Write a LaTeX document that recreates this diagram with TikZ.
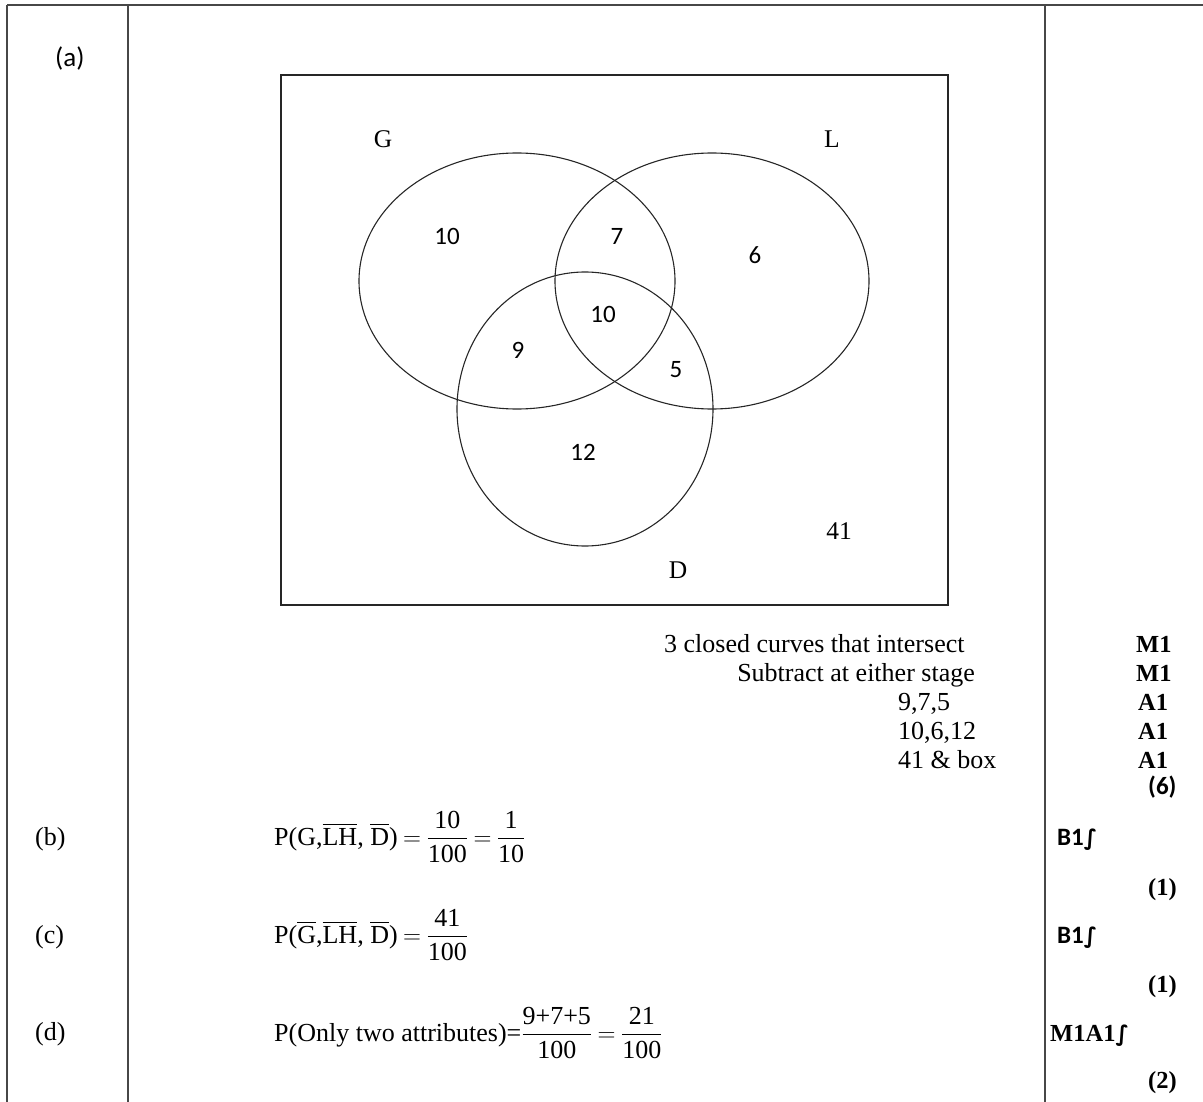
\documentclass[tikz,border=0pt]{standalone}
\usepackage{amsmath}
\usepackage{fontspec}
\setmainfont{Liberation Serif}
\newfontfamily\carlito{Carlito}
\newfontfamily\dejavu{DejaVu Sans}
\newcommand\fracrow[2]{\dfrac{\mbox{#1}}{\mbox{#2}}}
\newcommand\follow{{\dejavu\bfseries\fontsize{22}{26}\selectfont ∫}}
\newcommand\tightrel{\thickmuskip=4mu\relax}
\begin{document}
\begin{tikzpicture}[x=1pt,y=-1pt,
  rule/.style={line width=1.7pt, draw=black!72},
  setline/.style={line width=1.1pt, draw=black!85},
  serif/.style={font=\fontsize{25.5}{30}\selectfont, inner sep=0pt},
  note/.style={font=\fontsize{26}{31}\selectfont, inner sep=0pt},
  sans/.style={font=\carlito\fontsize{25}{30}\selectfont, inner sep=0pt},
  sansbold/.style={font=\carlito\bfseries\fontsize{25}{30}\selectfont, inner sep=0pt},
  marktext/.style={font=\bfseries\fontsize{24.5}{29}\selectfont, inner sep=0pt},
  formula/.style={font=\fontsize{26}{31}\selectfont, inner sep=0pt, anchor=base west}]
\useasboundingbox (0,0) rectangle (1203,1102);

% table rules
\draw[rule] (7,5) -- (1203,5);
\draw[rule] (7,5) -- (7,1102);
\draw[rule] (128,5) -- (128,1102);
\draw[rule] (1045,5) -- (1045,1102);

% part labels
\node[sans, font=\carlito\fontsize{27}{32}\selectfont, anchor=base west] (pa) at (55,67) {(a)};
\node[serif, font=\fontsize{26}{31}\selectfont, anchor=base west] (pb) at (35,845) {(b)};
\node[serif, font=\fontsize{26}{31}\selectfont, anchor=base west] (pc) at (35,943) {(c)};
\node[serif, font=\fontsize{26}{31}\selectfont, anchor=base west] (pd) at (35,1040) {(d)};

% Venn diagram
\draw[setline] (281,75) rectangle (948,605);
\draw[setline] (517,281) ellipse [x radius=158, y radius=128];
\draw[setline] (712,281) ellipse [x radius=157, y radius=128];
\draw[setline] (585,409) ellipse [x radius=128, y radius=137];

\node[serif] (lG) at (383,139) {G};
\node[serif] (lL) at (832,139) {L};
\node[serif] (lD) at (678,570) {D};
\node[serif] (n41) at (839,531) {41};
\node[sans] (nG) at (447,236) {10};
\node[sans] (nGL) at (617,236) {7};
\node[sans] (nL) at (755,255) {6};
\node[sans] (nGLD) at (603,314) {10};
\node[sans] (nGD) at (518,350) {9};
\node[sans] (nLD) at (676,370) {5};
\node[sans] (nD) at (583,452) {12};

% marking notes for (a)
\node[note, anchor=base west] (t1) at (664,652) {3 closed curves that intersect};
\node[note, anchor=base east] (t2) at (975,681) {Subtract at either stage};
\node[note, anchor=base west] (t3) at (898,710) {9,7,5};
\node[note, anchor=base west] (t4) at (898,739) {10,6,12};
\node[note, anchor=base west] (t5) at (898,768) {41 \& box};

\node[marktext, anchor=base west] (m1) at (1136,652) {M1};
\node[marktext, anchor=base west] (m2) at (1136,681) {M1};
\node[marktext, anchor=base west] (m3) at (1138,710) {A1};
\node[marktext, anchor=base west] (m4) at (1138,739) {A1};
\node[marktext, anchor=base west] (m5) at (1138,768) {A1};
\node[sansbold, anchor=base west] (s6) at (1148,794) {(6)};

% (b)
\node[formula] (fb) at (274,845)
  {$\tightrel\mbox{P(G,}\overline{\mbox{LH}}\mbox{, }\overline{\mbox{D}}\mbox{)}=\fracrow{10}{100}=\fracrow{1}{10}$};
\node[sansbold, anchor=base west] (mb) at (1057,845) {B1\follow};
\node[marktext, anchor=base west] (sb) at (1148,895) {(1)};

% (c)
\node[formula] (fc) at (274,943)
  {$\tightrel\mbox{P(}\overline{\mbox{G}}\mbox{,}\overline{\mbox{LH}}\mbox{, }\overline{\mbox{D}}\mbox{)}=\fracrow{41}{100}$};
\node[sansbold, anchor=base west] (mc) at (1057,943) {B1\follow};
\node[marktext, anchor=base west] (sc) at (1148,992) {(1)};

% (d)
\node[formula] (fd) at (274,1041)
  {$\tightrel\mbox{P(Only two attributes)=}\fracrow{9+7+5}{100}=\fracrow{21}{100}$};
\node[marktext, anchor=base west] (md) at (1050,1041) {M1A1\follow};
\node[marktext, anchor=base west] (sd) at (1148,1088) {(2)};
\end{tikzpicture}
\end{document}
